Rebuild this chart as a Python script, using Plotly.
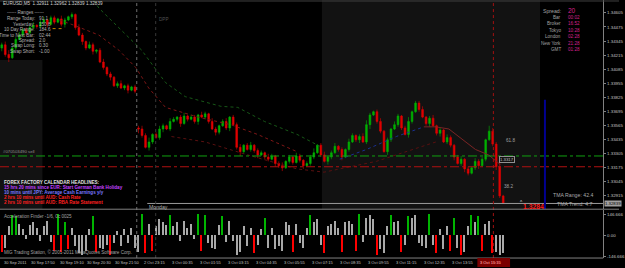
import plotly.graph_objects as go

# ---------------- data ----------------
closes = [
    1.3431, 1.3422, 1.3419, 1.3428, 1.3436, 1.3440, 1.3445, 1.3442, 1.3447, 1.3449, 1.3448, 1.3452,
    1.3454, 1.3450, 1.3456, 1.3452, 1.3455, 1.3450, 1.3454, 1.3457, 1.3459, 1.3447, 1.3440, 1.3434,
    1.3428, 1.3431, 1.3425, 1.3426, 1.3415, 1.3410, 1.3404, 1.3401, 1.3393, 1.3395, 1.3391, 1.3393,
    1.3389, 1.3392, 1.3388, 1.3353, 1.3347, 1.3336, 1.3341, 1.3348, 1.3345, 1.3353, 1.3356, 1.3353,
    1.3360, 1.3362, 1.3364, 1.3358, 1.3365, 1.3362, 1.3364, 1.3360, 1.3366, 1.3364, 1.3367, 1.3360,
    1.3353, 1.3350, 1.3356, 1.3360, 1.3354, 1.3364, 1.3357, 1.3336, 1.3332, 1.3338, 1.3334, 1.3338,
    1.3333, 1.3329, 1.3331, 1.3327, 1.3325, 1.3328, 1.3321, 1.3319, 1.3317, 1.3323, 1.3327, 1.3322,
    1.3328, 1.3324, 1.3319, 1.3321, 1.3327, 1.3331, 1.3338, 1.3329, 1.3323, 1.3327, 1.3331, 1.3337,
    1.3334, 1.3327, 1.3334, 1.3341, 1.3347, 1.3343, 1.3346, 1.3341, 1.3357, 1.3366, 1.3369, 1.3360,
    1.3351, 1.3332, 1.3343, 1.3353, 1.3357, 1.3365, 1.3354, 1.3348, 1.3360, 1.3369, 1.3377, 1.3371,
    1.3364, 1.3358, 1.3363, 1.3356, 1.3349, 1.3352, 1.3341, 1.3345, 1.3338, 1.3327, 1.3321, 1.3325,
    1.3316, 1.3312, 1.3317, 1.3323, 1.3319, 1.3325, 1.3343, 1.3351, 1.3339, 1.3318, 1.3291, 1.3284,
]
first_open = 1.3428
sunday_idx = 39
sunday_open = 1.3354

wick_up = [
    2, 3, 4, 1, 2, 3, 1, 2, 2, 3, 1, 2,
    3, 1, 2, 2, 1, 3, 2, 1, 2, 1, 3, 2,
    1, 3, 2, 1, 2, 3, 1, 2, 1, 2, 3, 1,
    2, 1, 2, 2, 3, 2, 4, 1, 2, 3, 2, 1,
    3, 2, 1, 2, 3, 1, 2, 2, 1, 3, 2, 1,
    3, 2, 1, 2, 3, 1, 2, 2, 3, 1, 2, 3,
    1, 2, 2, 1, 3, 2, 1, 2, 3, 1, 2, 1,
    3, 2, 1, 2, 2, 4, 1, 2, 3, 1, 2, 3,
    1, 2, 1, 3, 2, 1, 2, 3, 4, 2, 1, 2,
    3, 1, 2, 1, 3, 2, 1, 2, 4, 1, 2, 2,
    3, 1, 2, 3, 1, 2, 1, 3, 2, 1, 2, 3,
    1, 2, 1, 3, 2, 2, 1, 5, 3, 2, 5, 1,
]
wick_dn = [
    3, 2, 4, 1, 2, 1, 2, 3, 1, 2, 2, 1,
    2, 3, 1, 2, 1, 2, 3, 1, 2, 2, 1, 3,
    2, 1, 3, 2, 1, 2, 2, 3, 1, 2, 1, 2,
    3, 1, 2, 4, 2, 1, 3, 2, 1, 2, 3, 1,
    2, 1, 2, 3, 1, 2, 1, 2, 3, 1, 2, 2,
    1, 3, 2, 1, 2, 3, 1, 2, 4, 2, 1, 2,
    2, 3, 1, 2, 2, 1, 3, 2, 3, 1, 2, 2,
    1, 2, 3, 1, 2, 2, 1, 2, 1, 3, 2, 1,
    2, 3, 1, 2, 1, 2, 3, 1, 2, 4, 1, 2,
    2, 1, 3, 2, 1, 2, 2, 1, 3, 2, 1, 2,
    1, 2, 3, 1, 2, 3, 1, 2, 2, 3, 1, 2,
    3, 2, 1, 2, 3, 1, 2, 1, 2, 3, 2, 0,
]

hist_vals = [
    -120, -90, 60, 140, 130, 80, 40, -30, 70, 90, 50, -40,
    60, 100, -50, -110, 150, -120, 90, -100, 50, -80, -130, -140,
    -110, 40, 130, -120, -90, -100, -70, -140, -60, 30, -80, 40,
    -60, 50, -90, -120, 150, -130, 80, -110, 60, 110, 90, 70,
    140, 60, 90, -40, 100, 50, 80, -30, 150, -110, 140, -60,
    -90, -100, 70, 130, -50, 100, -40, -140, -120, 60, -80, 50,
    -130, -70, 40, 120, -90, 50, -100, -80, -110, 90, 70, -120,
    80, -60, -90, 50, 140, 90, 110, -70, -130, 60, 80, 100,
    50, -120, 90, 100, 80, -110, 150, -50, 120, 140, 110, -140,
    -100, -130, 60, 140, 90, 100, -120, -70, 130, 120, 140, -60,
    -80, -90, 150, -70, -130, 40, -100, 60, -110, 120, -90, -140,
    -120, 60, 140, 90, 130, -110, 80, 100, -130, -120, -140, -130,
]
hist_green = [3, 4, 16, 18, 26, 40, 48, 56, 58, 63, 75, 88, 102, 111, 116, 122, 129, 134, 136]
hist_red = [0, 15, 17, 19, 27, 31, 41, 43, 57, 72, 83, 92, 97, 101, 107, 114, 124, 128, 131, 137, 140]

# moving averages (bar index, price)
ma_red_x = [16.4, 20.7, 27.7, 33.4, 38.2, 41.9, 46.7, 56.0, 65.3, 72.9, 84.2]
ma_red_y = [1.3454, 1.3449, 1.3440, 1.3426, 1.3410, 1.3391, 1.3373, 1.3364, 1.3357, 1.3348, 1.3332]
ma_green_x = [26.3, 27.7, 39.9, 46.7, 52.3, 62.5, 67.3, 74.9, 84.2, 90.7]
ma_green_y = [1.3472, 1.3465, 1.3426, 1.3396, 1.3383, 1.3374, 1.3373, 1.3360, 1.3348, 1.3337]
ma_low_x = [48.4, 58.0, 70.1, 84.2, 91.9, 106.8, 123.8]
ma_low_y = [1.3346, 1.3341, 1.3329, 1.3316, 1.3313, 1.3323, 1.3341]
tma_up_x = [96.4, 104.0, 112.5, 120.4]
tma_up_y = [1.3325, 1.3334, 1.3346, 1.3355]
tma_dn_x = [120.4, 123.8, 127.5, 135.1, 138.8, 142.2]
tma_dn_y = [1.3355, 1.3355, 1.3353, 1.3334, 1.3329, 1.3320]

sell_level = 1.3328
stop_level = 1.3318
bid = 1.3284
pivot_level = 1.3446
weekend_idx = 38.5
sep2_idx = 43.9
now_idx = 140.2
future_idx = 154.9
monday_idx = 41.5

price_ticks = [1.34605, 1.34475, 1.34345, 1.34215, 1.34085, 1.33955, 1.33825,
               1.33695, 1.33565, 1.33435, 1.33305, 1.33175, 1.33045, 1.32915]
hist_ticks = [146.666, 0.0, -146.666]
hist_tick_text = ["146.666", "0.00", "-146.666"]

x_label_idx = [0.0, 7.8, 15.9, 23.8, 31.7, 39.9, 47.9, 55.9, 63.9, 71.9, 79.9, 87.9,
               95.9, 103.9, 111.9, 119.9, 127.9, 135.9]
x_label_text = ["30 Sep 2011", "30 Sep 17:50", "30 Sep 19:10", "30 Sep 20:30", "30 Sep 21:50",
                "2 Oct 23:15", "3 Oct 00:35", "3 Oct 01:55", "3 Oct 03:15", "3 Oct 04:35",
                "3 Oct 05:55", "3 Oct 07:15", "3 Oct 08:35", "3 Oct 09:55", "3 Oct 11:15",
                "3 Oct 12:35", "3 Oct 13:55", "3 Oct 15:15"]

# ---------------- derived ----------------
n = len(closes)
idx = list(range(n))
opens = [first_open] + closes[:-1]
opens[sunday_idx] = sunday_open
pip = 0.0001
highs = [max(o, c) + u * pip for o, c, u in zip(opens, closes, wick_up)]
lows = [min(o, c) - d * pip for o, c, d in zip(opens, closes, wick_dn)]
hist_colors = []
for i in idx:
    if i in hist_green:
        hist_colors.append("#00b400")
    elif i in hist_red:
        hist_colors.append("#ff0000")
    else:
        hist_colors.append("#a8a8a8")

W, H = 625, 268
XR = 609 / W
Y_MAIN0 = 1 - 210 / H
Y_H0, Y_H1 = 1 - 259 / H, 1 - 211 / H
FONT = "Liberation Sans"

fig = go.Figure()
fig.add_trace(go.Candlestick(
    x=idx, open=opens, high=highs, low=lows, close=closes,
    increasing=dict(line=dict(color="#00b000", width=0.6), fillcolor="#00b000"),
    decreasing=dict(line=dict(color="#e00000", width=0.6), fillcolor="#e00000"),
    whiskerwidth=0, hoverinfo="skip", xaxis="x", yaxis="y"))

for xs, ys, col, dash, w in [
    (ma_red_x, ma_red_y, "#7e1616", "dot", 1),
    (ma_green_x, ma_green_y, "#175817", "dot", 1),
    (ma_low_x, ma_low_y, "#5a1010", "dot", 1),
    (tma_up_x, tma_up_y, "#1a3090", "dot", 1),
    (tma_dn_x, tma_dn_y, "#7a2424", "solid", 1),
]:
    fig.add_trace(go.Scatter(x=xs, y=ys, mode="lines", line=dict(color=col, dash=dash, width=w),
                             hoverinfo="skip", xaxis="x", yaxis="y"))

fig.add_trace(go.Bar(x=idx, y=hist_vals, marker=dict(color=hist_colors, line=dict(width=0)),
                     width=0.4, hoverinfo="skip", xaxis="x", yaxis="y2"))

ymin = 1.34725 - 0.0000923 * 210
ymax = 1.34725

shapes = [
    dict(type="rect", xref="x", yref="paper", x0=91.3, x1=153.5, y0=Y_MAIN0, y1=1,
         fillcolor="#121212", line=dict(width=0), layer="below"),
    dict(type="rect", xref="x", yref="y", x0=-0.5, x1=11.6, y0=ymin, y1=1.3417,
         fillcolor="#121212", line=dict(width=0), layer="below"),
    dict(type="line", xref="paper", yref="y", x0=0, x1=XR, y0=sell_level, y1=sell_level,
         line=dict(color="#10a010", width=1, dash="dashdot")),
    dict(type="line", xref="paper", yref="y", x0=0, x1=XR, y0=stop_level, y1=stop_level,
         line=dict(color="#b01010", width=1, dash="dashdot")),
    dict(type="line", xref="x", yref="y", x0=monday_idx, x1=171.5, y0=bid, y1=bid,
         line=dict(color="#9a9a9a", width=1)),
    dict(type="line", xref="x", yref="y", x0=14.5, x1=17.9, y0=pivot_level, y1=pivot_level,
         line=dict(color="#c08000", width=1, dash="dot")),
    dict(type="line", xref="x", yref="paper", x0=weekend_idx, x1=weekend_idx, y0=Y_H0, y1=1,
         line=dict(color="#707070", width=1, dash="dot")),
    dict(type="line", xref="x", yref="paper", x0=sep2_idx, x1=sep2_idx, y0=Y_H0, y1=1,
         line=dict(color="#383838", width=1, dash="dot")),
    dict(type="line", xref="x", yref="paper", x0=now_idx, x1=now_idx, y0=Y_H0, y1=1,
         line=dict(color="#a01010", width=1, dash="dot")),
    dict(type="line", xref="x", yref="y", x0=future_idx, x1=future_idx, y0=ymin, y1=1.3380,
         line=dict(color="#000090", width=2)),
    dict(type="line", xref="paper", yref="paper", x0=0, x1=1, y0=Y_MAIN0, y1=Y_MAIN0,
         line=dict(color="#808080", width=1)),
    dict(type="line", xref="paper", yref="paper", x0=0, x1=XR, y0=Y_H0, y1=Y_H0,
         line=dict(color="#808080", width=1)),
    dict(type="line", xref="paper", yref="paper", x0=0, x1=1, y0=1 - 1 / H, y1=1 - 1 / H,
         line=dict(color="#404040", width=1)),
    dict(type="rect", xref="paper", yref="paper", x0=482 / W, x1=515 / W, y0=0, y1=Y_H0,
         fillcolor="#7a0000", line=dict(width=0)),
]

ann = []


def T(x, y, text, color="#c0c0c0", size=5, anchor="left", bold=False, bg=None):
    d = dict(x=x / W, y=1 - y / H, xref="paper", yref="paper", text=("<b>%s</b>" % text) if bold else text,
             showarrow=False, xanchor=anchor, yanchor="middle",
             font=dict(family=FONT, size=size, color=color), borderpad=0)
    if bg:
        d["bgcolor"] = bg
    ann.append(d)


# header and info box
T(2, 4, "EURUSD,M5  1.32911 1.32962 1.32839 1.32839", "#d0d0d0", 4.6)
T(26, 13, "------ Ranges ------", "#b0b0b0", 4.6, "center")
info_rows = [("Range Today:", "91.1"), ("Yesterday:", "150.8"), ("10 Day Range:", "184.6"),
             ("Time to Next Bar:", "02:44"), ("Spread:", "2.0"), ("Swap Long:", "0.30"),
             ("Swap Short:", "-1.00")]
for k, (a, b) in enumerate(info_rows):
    yy = 19 + k * 5.4
    T(36, yy, a, "#b0b0b0", 4.6, "right")
    T(38, yy, b, "#b0b0b0", 4.6, "left")
T(160, 20, "DPP", "#505050", 4.6)

# top-right clock panel
T(567, 11, "Spread:", "#a0a0a0", 5.2, "right")
T(573, 11, "20", "#d4208c", 6.5, "left")
clock_rows = [("Bar", "00:02"), ("Broker", "16:52"), ("Tokyo", "10:28"), ("London", "02:28"),
              ("New York", "21:28"), ("GMT", "01:28")]
for k, (a, b) in enumerate(clock_rows):
    yy = 17.5 + k * 6.5
    T(567, yy, a, "#a0a0a0", 4.6, "right")
    T(573, yy, b, "#d4208c", 4.6, "left")

# labels near the lines
T(2, 152, "#070503490 sell", "#909090", 4.3)
T(510, 141, "61.8", "#a0a0a0", 4.6)
T(508, 187, "38.2", "#a0a0a0", 4.6)
ann.append(dict(x=(504) / W, y=1 - 160 / H, xref="paper", yref="paper", text="1.3317", showarrow=False,
                xanchor="left", yanchor="middle", font=dict(family=FONT, size=4.3, color="#c0c0c0"),
                bordercolor="#909090", borderwidth=1, borderpad=0))

# news block
T(3, 183, "FOREX FACTORY CALENDAR HEADLINES:", "#e0e0e0", 4.6, bold=True)
T(3, 188.5, "15 hrs 20 mins since EUR: Start German Bank Holiday", "#c040ff", 4.6, bold=True)
T(3, 193.5, "10 mins until JPY: Average Cash Earnings y/y", "#7878ff", 4.6, bold=True)
T(3, 198.5, "2 hrs 10 mins until AUD: Cash Rate", "#ff2020", 4.6, bold=True)
T(3, 203.5, "2 hrs 10 mins until AUD: RBA Rate Statement", "#ff2020", 4.6, bold=True)
T(149, 207.5, "Monday", "#b0b0b0", 5.2)

# right bottom of main pane
T(600, 196, "TMA Range: 42.4", "#a8a8a8", 5.2, "right")
T(600, 205, "TMA Trend: 4.7", "#a8a8a8", 5.2, "right")
T(524, 203, "^", "#e0e0e0", 4.6)
T(527, 207.5, "1.3284", "#ff1a1a", 6.8, bold=True)
ann.append(dict(x=XR + 1 / W, y=bid, xref="paper", yref="y", text="1.32839", showarrow=False,
                xanchor="left", yanchor="middle", font=dict(family=FONT, size=4.3, color="#000000"),
                bgcolor="#a0a0a0", borderpad=0))

# indicator pane
T(3, 217, "Acceleration Finder -1/6, 0c 0025", "#a0a0a0", 4.6)
T(3, 253, "MIG Trading Station, © 2001-2011 MetaQuotes Software Corp.", "#a0a0a0", 4.6)

# time labels
for xi, tx in zip(x_label_idx, x_label_text):
    ann.append(dict(x=xi, y=1 - 263.5 / H, xref="x", yref="paper", text=tx, showarrow=False,
                    xanchor="left", yanchor="middle", font=dict(family=FONT, size=4.0, color="#c0c0c0")))
T(484, 263.5, "3 Oct 16:30", "#ff5050", 4.0)

fig.update_layout(
    width=W, height=H, margin=dict(l=0, r=0, t=0, b=0),
    paper_bgcolor="#000000", plot_bgcolor="#000000", showlegend=False, bargap=0,
    xaxis=dict(domain=[0, XR], range=[-0.5, 171.5], showticklabels=False, showgrid=False,
               zeroline=False, showline=False, rangeslider=dict(visible=False), fixedrange=True),
    yaxis=dict(domain=[Y_MAIN0, 1], range=[ymin, ymax], side="right", anchor="x",
               tickvals=price_ticks, ticktext=["%.5f" % v for v in price_ticks],
               tickfont=dict(family=FONT, size=4.4, color="#c0c0c0"), ticks="outside", ticklen=2,
               tickcolor="#808080", showgrid=False, zeroline=False, showline=True, linecolor="#808080",
               linewidth=1),
    yaxis2=dict(domain=[Y_H0, Y_H1], range=[-160.6, 174.6], side="right", anchor="x",
                tickvals=hist_ticks, ticktext=hist_tick_text,
                tickfont=dict(family=FONT, size=4.4, color="#c0c0c0"), ticks="outside", ticklen=2,
                tickcolor="#808080", showgrid=False, zeroline=False, showline=True, linecolor="#808080",
                linewidth=1),
    shapes=shapes, annotations=ann,
)

fig.write_html("out.html")
